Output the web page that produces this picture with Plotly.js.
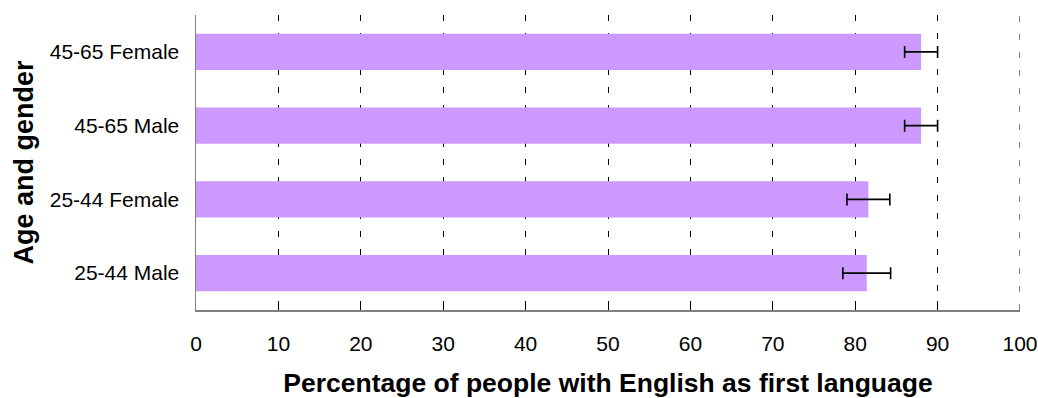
<!DOCTYPE html>
<html>
<head>
<meta charset="utf-8">
<script src="https://cdn.plot.ly/plotly-3.0.1.min.js"></script>
<style>html,body{margin:0;padding:0;background:#fff;}#chart{width:1038px;height:398px;}</style>
</head>
<body>
<div id="chart"></div>
<script>
const categories = ["25-44 Male", "25-44 Female", "45-65 Male", "45-65 Female"];
const percentages = [81.4, 81.6, 88.0, 88.0];
const errors = [2.9, 2.6, 2.0, 2.0];
const xTicks = [0, 10, 20, 30, 40, 50, 60, 70, 80, 90, 100];
const xMax = 100;

const trace = {
  type: 'bar',
  orientation: 'h',
  y: categories,
  x: percentages,
  marker: {color: '#CC99FF', line: {width: 0}},
  error_x: {type: 'data', array: errors, visible: true, color: '#000000', thickness: 1.6, width: 6},
  hoverinfo: 'none'
};

const layout = {
  width: 1038, height: 398,
  margin: {l: 196, r: 18, t: 15, b: 88},
  paper_bgcolor: '#ffffff', plot_bgcolor: '#ffffff',
  showlegend: false,
  bargap: 0.51,
  font: {family: 'Liberation Sans, Arial, sans-serif', color: '#000000'},
  shapes: [{
    type: 'line', xref: 'x', yref: 'paper', x0: xMax, x1: xMax, y0: 0, y1: 1,
    line: {color: '#000000', width: 1, dash: '6px,12px'}, layer: 'below'
  }],
  xaxis: {
    range: [0, xMax],
    tickvals: xTicks,
    ticktext: xTicks.map(String),
    showgrid: true, gridcolor: '#000000', gridwidth: 1, griddash: '6px,12px',
    zeroline: false,
    showline: true, linecolor: '#808080', linewidth: 1.5,
    ticks: 'inside', ticklen: 9, tickcolor: '#000000', tickwidth: 1,
    ticklabelstandoff: 14,
    tickfont: {size: 21, family: 'Liberation Sans, Arial, sans-serif'},
    title: {text: 'Percentage of people with English as first language', font: {size: 26.5, family: 'Liberation Sans, Arial, sans-serif', weight: 'bold'}, standoff: 22},
    fixedrange: true
  },
  yaxis: {
    categoryorder: 'array', categoryarray: categories,
    range: [-0.5, 3.5],
    showgrid: false, zeroline: false,
    showline: true, linecolor: '#808080', linewidth: 1.5,
    ticks: '',
    ticklabelstandoff: 11,
    tickfont: {size: 21, family: 'Liberation Sans, Arial, sans-serif'},
    title: {text: 'Age and gender', font: {size: 27, family: 'Liberation Sans, Arial, sans-serif', weight: 'bold'}, standoff: 8},
    fixedrange: true
  }
};

Plotly.newPlot('chart', [trace], layout, {displayModeBar: false, staticPlot: true});
</script>
</body>
</html>
